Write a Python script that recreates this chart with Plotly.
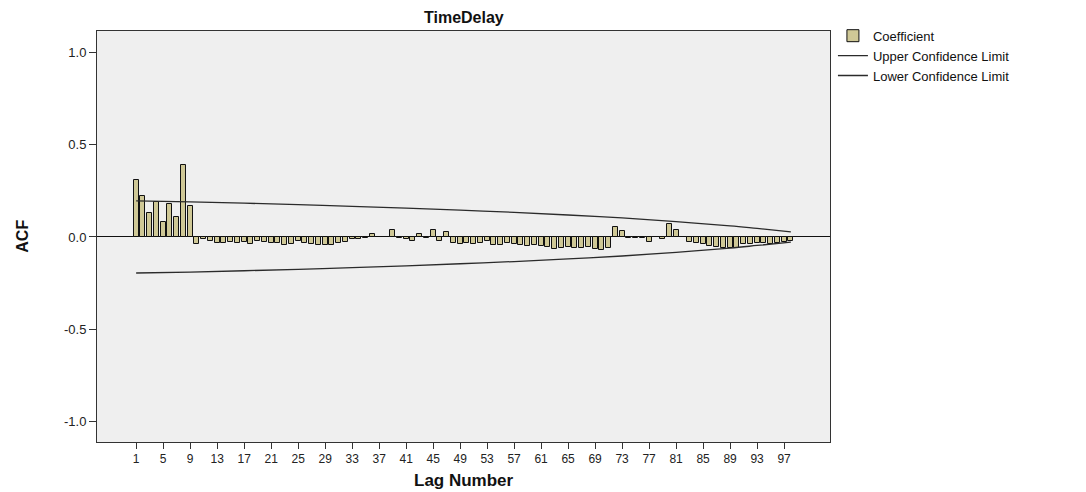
import plotly.graph_objects as go

# ---- data ----
lags = list(range(1, 99))
acf = [0.31, 0.22, 0.13, 0.19, 0.08, 0.18, 0.11, 0.39, 0.17, -0.04,
       -0.01, -0.02, -0.03, -0.035, -0.025, -0.035, -0.025, -0.04, -0.02, -0.025,
       -0.035, -0.035, -0.045, -0.04, -0.02, -0.03, -0.04, -0.045, -0.045, -0.045,
       -0.035, -0.025, -0.012, -0.012, -0.005, 0.015, 0.002, 0.002, 0.038, -0.005,
       -0.013, -0.02, 0.016, -0.005, 0.038, -0.02, 0.027, -0.035, -0.038, -0.035,
       -0.04, -0.03, -0.02, -0.045, -0.043, -0.035, -0.04, -0.045, -0.05, -0.045,
       -0.05, -0.055, -0.067, -0.062, -0.055, -0.058, -0.058, -0.055, -0.067, -0.07,
       -0.06, 0.056, 0.032, -0.003, -0.005, -0.007, -0.025, -0.002, -0.011, 0.068,
       0.038, -0.002, -0.025, -0.03, -0.038, -0.049, -0.056, -0.061, -0.061, -0.06,
       -0.04, -0.038, -0.031, -0.03, -0.037, -0.03, -0.025, -0.02]

limit_lags = [1, 9, 17, 25, 33, 41, 49, 57, 65, 73, 81, 89, 93, 98]
upper_limit = [0.195, 0.19, 0.183, 0.175, 0.166, 0.156, 0.145, 0.133, 0.119,
               0.103, 0.083, 0.06, 0.046, 0.028]
lower_limit = [-0.195, -0.19, -0.183, -0.175, -0.166, -0.156, -0.145, -0.133,
               -0.119, -0.103, -0.083, -0.06, -0.046, -0.028]

x_tick_vals = list(range(1, 98, 4))
x_tick_text = [str(v) for v in x_tick_vals]
y_tick_vals = [-1.0, -0.5, 0.0, 0.5, 1.0]
y_tick_text = ["-1.0", "-0.5", "0.0", "0.5", "1.0"]

FONT = "Liberation Sans, Arial, sans-serif"

fig = go.Figure()
fig.add_trace(go.Bar(
    x=lags, y=acf, name="Coefficient", width=0.72,
    marker=dict(color="#cfc896", line=dict(color="#111111", width=1)),
))
fig.add_trace(go.Scatter(
    x=limit_lags, y=upper_limit, mode="lines", name="Upper Confidence Limit",
    line=dict(color="#2b2b2b", width=1.3, shape="spline"),
))
fig.add_trace(go.Scatter(
    x=limit_lags, y=lower_limit, mode="lines", name="Lower Confidence Limit",
    line=dict(color="#2b2b2b", width=1.3, shape="spline"),
))

fig.update_layout(
    width=1086, height=492,
    paper_bgcolor="white", plot_bgcolor="#efefef",
    margin=dict(l=97, r=256, t=31, b=50, autoexpand=False),
    font=dict(family=FONT, size=13, color="#222"),
    showlegend=True,
    legend=dict(x=1.004, y=1.025, xanchor="left", yanchor="top",
                font=dict(size=13, color="#111"), bgcolor="rgba(0,0,0,0)",
                tracegroupgap=0, itemwidth=30),
    bargap=0,
    annotations=[
        dict(text="<b>TimeDelay</b>", xref="paper", yref="paper", x=0.5, y=1.032,
             xanchor="center", yanchor="middle", showarrow=False,
             font=dict(size=16, color="#111")),
        dict(text="<b>ACF</b>", xref="paper", yref="paper", x=-0.102, y=0.5,
             xanchor="center", yanchor="middle", showarrow=False, textangle=-90,
             font=dict(size=16, color="#111")),
        dict(text="<b>Lag Number</b>", xref="paper", yref="paper", x=0.5, y=-0.0925,
             xanchor="center", yanchor="middle", showarrow=False,
             font=dict(size=17, color="#111")),
    ],
)
fig.update_xaxes(
    range=[-4.8, 103.8], tickmode="array", tickvals=x_tick_vals, ticktext=x_tick_text,
    ticks="outside", ticklen=6, tickcolor="#333", tickfont=dict(size=12),
    showline=True, linecolor="#333", linewidth=1, mirror=True,
    showgrid=False, zeroline=False, automargin=False,
)
fig.update_yaxes(
    range=[-1.11, 1.115], tickmode="array", tickvals=y_tick_vals, ticktext=y_tick_text,
    ticks="outside", ticklen=7, tickcolor="#333", tickfont=dict(size=13),
    showline=True, linecolor="#333", linewidth=1, mirror=True,
    showgrid=False, zeroline=True, zerolinecolor="#111", zerolinewidth=1,
    automargin=False,
)

fig.write_html(
    "out.html",
    config={"displayModeBar": False},
    post_script="document.body.style.margin='0';document.body.style.overflow='hidden';",
)
